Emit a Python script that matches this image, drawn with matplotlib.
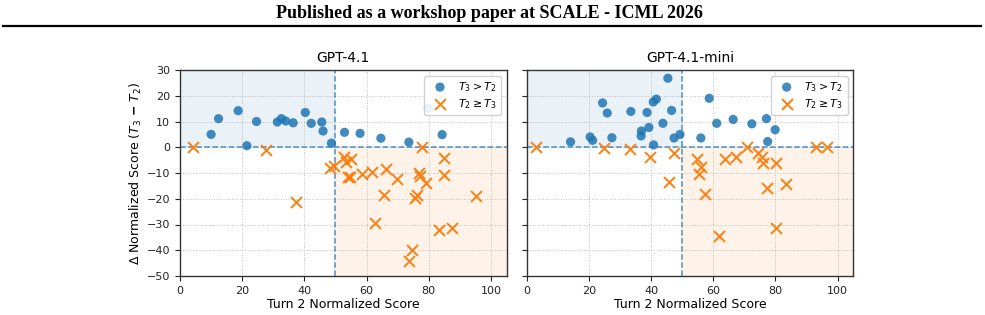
import matplotlib
matplotlib.use("Agg")
import matplotlib.pyplot as plt
import numpy as np

# ---- data: GPT-4.1 ----
g41_up_x = [10.0, 12.4, 18.7, 21.5, 24.6, 31.3, 32.6, 34.0, 36.4, 40.3, 42.2, 45.6, 46.0, 48.7,
            52.9, 57.9, 64.6, 73.6, 84.3, 79.9]
g41_up_y = [5.0, 11.1, 14.2, 0.6, 10.0, 9.8, 11.1, 10.2, 9.5, 13.5, 9.3, 9.8, 6.3, 1.6,
            5.8, 5.4, 3.5, 2.0, 4.9, 15.1]
g41_dn_x = [4.1, 27.6, 37.4, 48.2, 49.6, 52.9, 53.5, 54.9, 54.0, 54.6, 58.5, 61.6, 66.3, 69.8,
            77.0, 77.3, 77.9, 79.0, 84.9, 84.9, 62.6, 65.5, 75.6, 76.3, 83.4, 87.6, 95.2,
            74.5, 73.6]
g41_dn_y = [0.1, -1.2, -21.1, -8.2, -7.1, -3.8, -5.6, -4.6, -11.7, -11.7, -10.3, -9.6, -8.6, -12.2,
            -9.9, -11.2, 0.1, -13.8, -4.2, -10.9, -29.3, -18.7, -19.8, -18.6, -32.3, -31.2, -18.8,
            -39.8, -44.3]

# ---- data: GPT-4.1-mini ----
mini_up_x = [14.1, 20.4, 21.2, 24.4, 25.9, 27.4, 33.5, 36.9, 36.8, 38.7, 39.3, 40.7, 41.7, 40.8,
             43.8, 45.4, 46.6, 47.4, 49.3, 56.0, 58.7, 61.1, 66.4, 72.4, 77.1, 77.5, 79.9]
mini_up_y = [2.1, 4.0, 2.7, 17.2, 13.3, 3.7, 13.9, 6.3, 4.4, 13.5, 7.7, 17.6, 18.7, 0.9,
             9.3, 26.8, 14.3, 3.6, 5.0, 3.6, 19.0, 9.3, 10.8, 9.1, 11.1, 2.2, 6.8]
mini_dn_x = [2.9, 25.0, 33.2, 39.8, 47.5, 54.9, 56.2, 55.4, 63.7, 67.4, 70.9, 74.4, 75.7, 76.1,
             80.2, 93.0, 96.6, 45.9, 57.4, 62.0, 80.1, 77.3, 83.5]
mini_dn_y = [0.0, -0.4, -0.8, -3.7, -2.4, -4.6, -7.6, -10.3, -4.7, -3.7, 0.0, -2.1, -3.9, -6.3,
             -6.3, 0.0, 0.0, -13.4, -18.2, -34.3, -31.2, -16.0, -14.3]

titles = ["GPT-4.1", "GPT-4.1-mini"]
xticks = [0, 20, 40, 60, 80, 100]
yticks = [-50, -40, -30, -20, -10, 0, 10, 20, 30]

BLUE = "#1f77b4"
ORANGE = "#ff7f0e"

fig = plt.figure(figsize=(9.85, 3.15), dpi=100)

# header
fig.text(0.497, 1 - 13 / 315, "Published as a workshop paper at SCALE - ICML 2026",
         ha="center", va="center", fontsize=13, fontweight="bold",
         family="Liberation Serif")
fig.add_artist(plt.Line2D([3 / 985, 981 / 985], [1 - 25.5 / 315, 1 - 25.5 / 315],
                          color="black", lw=1.6, transform=fig.transFigure))

bottom = 1 - 276 / 315
height = 206 / 315
width = 326.5 / 985
lefts = [180 / 985, 526.7 / 985]

datasets = [(g41_up_x, g41_up_y, g41_dn_x, g41_dn_y),
            (mini_up_x, mini_up_y, mini_dn_x, mini_dn_y)]

for i, (ux, uy, dx, dy) in enumerate(datasets):
    ax = fig.add_axes([lefts[i], bottom, width, height])
    ax.set_xlim(0, 105)
    ax.set_ylim(-50, 30)
    ax.fill_between([0, 50], 0, 30, color=BLUE, alpha=0.09, lw=0, zorder=0)
    ax.fill_between([50, 105], -50, 0, color=ORANGE, alpha=0.09, lw=0, zorder=0)
    ax.axhline(0, color=BLUE, ls="--", lw=1.1, alpha=0.8, zorder=1)
    ax.axvline(50, color=BLUE, ls="--", lw=1.1, alpha=0.8, zorder=1)
    ax.grid(True, ls=":", color="#b0b0b0", lw=0.7, alpha=0.8, zorder=0)
    ax.set_axisbelow(True)
    ax.scatter(ux, uy, s=44, color=BLUE, alpha=0.85, edgecolors="none",
               label=r"$T_3 > T_2$", zorder=3)
    ax.scatter(dx, dy, s=62, marker="x", color=ORANGE, linewidths=1.4,
               label=r"$T_2 \geq T_3$", zorder=3)
    ax.set_xticks(xticks)
    ax.set_yticks(yticks)
    ax.tick_params(labelsize=8, length=3.5, width=0.8, colors="#222222")
    for s in ax.spines.values():
        s.set_color("#333333")
        s.set_linewidth(1.0)
    ax.set_title(titles[i], fontsize=10, pad=6)
    ax.set_xlabel("Turn 2 Normalized Score", fontsize=9, labelpad=2)
    if i == 0:
        ax.set_ylabel(r"$\Delta$ Normalized Score ($T_3$ $\mathbf{-}$ $T_2$)", fontsize=9, labelpad=2)
    else:
        ax.set_yticklabels([])
    ax.legend(loc="upper right", fontsize=8, framealpha=0.9, borderpad=0.4,
              handletextpad=0.6, labelspacing=0.3)

fig.savefig("out.png", dpi=100)
